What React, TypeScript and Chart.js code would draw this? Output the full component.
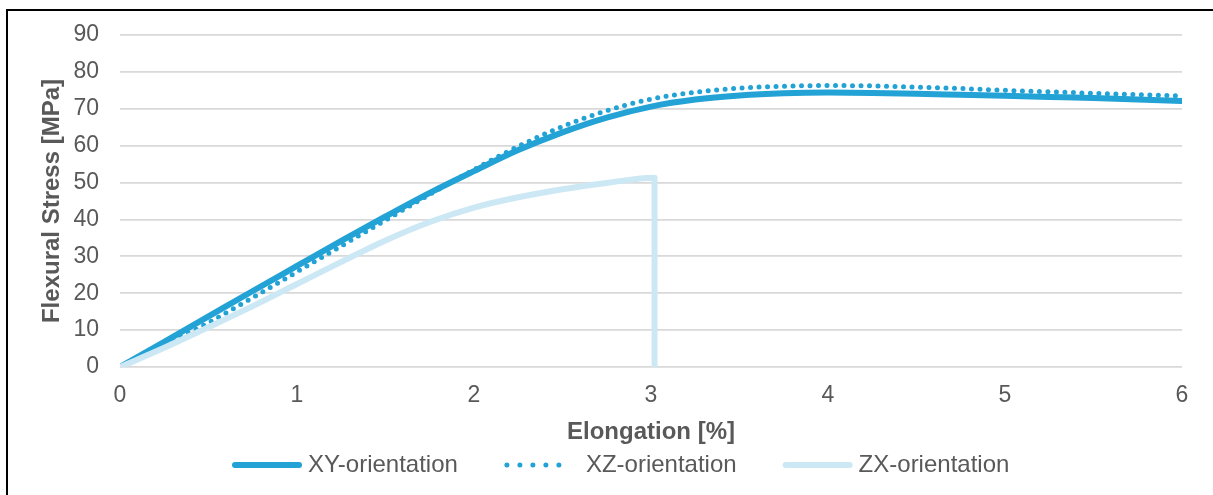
import { useEffect, useRef } from "react";
import { Chart, registerables } from "chart.js";

Chart.register(...registerables);

// Shared elongation grid [%] for XY and XZ series
const elongation = [0, 0.25, 0.5, 0.75, 1, 1.25, 1.5, 1.75, 2, 2.25, 2.5, 2.75, 3, 3.25, 3.5, 3.75, 4, 4.25, 4.5, 4.75, 5, 5.25, 5.5, 5.75, 6];
const xyStress = [0, 6.8, 13.7, 20.6, 27.4, 34.2, 40.8, 47.2, 53.1, 58.8, 63.6, 67.6, 70.6, 72.5, 73.6, 74.2, 74.4, 74.3, 74.1, 73.8, 73.5, 73.2, 72.9, 72.5, 72.1];
const xzStress = [0, 5.8, 12.0, 18.8, 25.8, 32.8, 39.8, 46.8, 53.5, 59.8, 65.2, 69.5, 72.6, 74.5, 75.6, 76.1, 76.3, 76.2, 75.9, 75.5, 75.0, 74.6, 74.2, 73.8, 73.5];
const zxElongation = [0, 0.25, 0.5, 0.75, 1, 1.25, 1.5, 1.75, 2, 2.25, 2.5, 2.75, 3.02, 3.02];
const zxStress = [0, 5.2, 10.8, 16.5, 22.5, 28.5, 34.3, 39.3, 43.2, 46.0, 48.2, 49.9, 51.3, 0];

const seriesNames = ["XY-orientation", "XZ-orientation", "ZX-orientation"];
const seriesColors = ["#22A2D5", "#22A2D5", "#CDE8F5"];
const xTitle = "Elongation [%]";
const yTitle = "Flexural Stress [MPa]";

const FONT = '"Liberation Sans", Arial, Helvetica, sans-serif';
const TEXT = "#595959";

const legendPlugin = {
  id: "customLegend",
  afterDraw(chart: any) {
    const ctx = chart.ctx as CanvasRenderingContext2D;
    ctx.save();
    ctx.font = `24px ${FONT}`;
    const sampleW = 70;
    const gaps = [6, 12, 6];
    const itemGap = 46;
    const widths = seriesNames.map((n) => ctx.measureText(n).width);
    let x = 232;
    const y = 465;
    seriesNames.forEach((name, i) => {
      ctx.beginPath();
      ctx.strokeStyle = seriesColors[i];
      ctx.lineCap = "round";
      if (i === 1) {
        ctx.lineWidth = 5;
        ctx.setLineDash([0, 13]);
        ctx.moveTo(x + 3, y);
        ctx.lineTo(x + 67, y);
      } else {
        ctx.lineWidth = 6;
        ctx.setLineDash([]);
        ctx.moveTo(x + 3, y);
        ctx.lineTo(x + sampleW - 3, y);
      }
      ctx.stroke();
      ctx.setLineDash([]);
      ctx.fillStyle = TEXT;
      ctx.textAlign = "left";
      ctx.textBaseline = "middle";
      ctx.fillText(name, x + sampleW + gaps[i], y);
      x += sampleW + gaps[i] + widths[i] + itemGap;
    });
    ctx.restore();
  },
};

export default function App() {
  const ref = useRef<HTMLCanvasElement | null>(null);

  useEffect(() => {
    if (!ref.current) return;
    const chart = new Chart(ref.current, {
      type: "line",
      data: {
        datasets: [
          {
            label: seriesNames[0],
            data: elongation.map((x, i) => ({ x, y: xyStress[i] })),
            borderColor: seriesColors[0],
            borderWidth: 6,
            pointRadius: 0,
            cubicInterpolationMode: "monotone",
            borderCapStyle: "round",
            borderJoinStyle: "round",
            order: 3,
          },
          {
            label: seriesNames[1],
            data: elongation.map((x, i) => ({ x, y: xzStress[i] })),
            borderColor: seriesColors[1],
            borderWidth: 5,
            borderDash: [0, 8.5],
            borderCapStyle: "round",
            pointRadius: 0,
            cubicInterpolationMode: "monotone",
            order: 2,
          },
          {
            label: seriesNames[2],
            data: zxElongation.map((x, i) => ({ x, y: zxStress[i] })),
            borderColor: seriesColors[2],
            borderWidth: 6,
            pointRadius: 0,
            cubicInterpolationMode: "monotone",
            borderCapStyle: "round",
            borderJoinStyle: "round",
            order: 1,
          },
        ],
      },
      options: {
        responsive: false,
        animation: false,
        layout: { padding: { left: 0, top: 35, right: 31, bottom: 48.6 } },
        plugins: {
          legend: { display: false },
          tooltip: { enabled: false },
        },
        font: { family: FONT },
        scales: {
          x: {
            type: "linear",
            min: 0,
            max: 6,
            ticks: { stepSize: 1, color: TEXT, font: { size: 23, family: FONT }, padding: 15 },
            grid: { display: false, drawTicks: false },
            border: { display: false },
            title: {
              display: true,
              text: xTitle,
              color: TEXT,
              font: { size: 24, weight: "bold", family: FONT },
              padding: { top: 0, bottom: 0 },
            },
            afterFit: (scale: any) => {
              scale.height = 79.4;
            },
          },
          y: {
            type: "linear",
            min: 0,
            max: 90,
            ticks: { stepSize: 10, color: TEXT, font: { size: 23, family: FONT }, padding: 21 },
            grid: { color: "#D9D9D9", lineWidth: 1.8, drawTicks: false },
            border: { display: false },
            title: {
              display: true,
              text: yTitle,
              color: TEXT,
              font: { size: 24, weight: "bold", family: FONT },
              padding: { top: 37.6, bottom: 0 },
            },
            afterFit: (scale: any) => {
              scale.width = 120;
            },
          },
        },
      } as any,
      plugins: [legendPlugin],
    });
    return () => chart.destroy();
  }, []);

  return (
    <div style={{ position: "fixed", left: 0, top: 0, width: 1213, height: 495, overflow: "hidden", background: "#fff" }}>
      <canvas ref={ref} width={1213} height={495} style={{ position: "absolute", left: 0, top: 0, width: 1213, height: 495 }} />
      <div
        style={{
          position: "absolute",
          left: 6,
          top: 9,
          width: 1230,
          height: 520,
          border: "2px solid #000",
          boxSizing: "border-box",
          pointerEvents: "none",
        }}
      />
    </div>
  );
}
